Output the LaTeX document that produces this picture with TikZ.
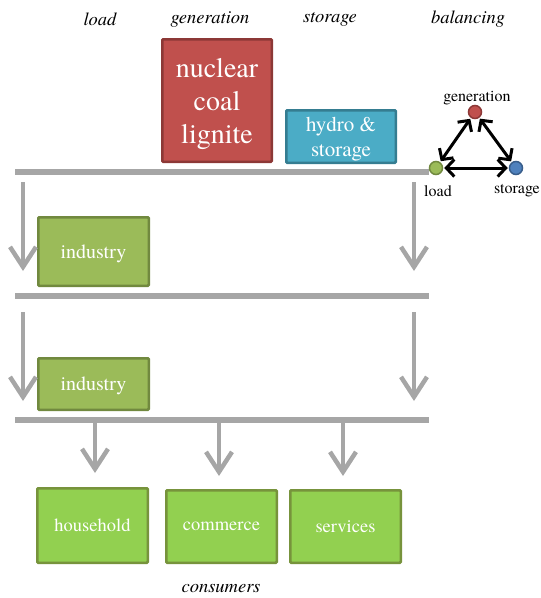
\documentclass[tikz,border=0pt]{standalone}
\usepackage{fontspec}
\setmainfont{TeX Gyre Termes}
\usetikzlibrary{arrows.meta}
\definecolor{redfill}{HTML}{C0504D}
\definecolor{redline}{HTML}{8C3836}
\definecolor{cyanfill}{HTML}{4BACC6}
\definecolor{cyanline}{HTML}{357D91}
\definecolor{olivefill}{HTML}{9BBB59}
\definecolor{oliveline}{HTML}{71893F}
\definecolor{limefill}{HTML}{92D050}
\definecolor{limeline}{HTML}{77933C}
\definecolor{barcol}{HTML}{A6A6A6}
\definecolor{bluefill}{HTML}{4F81BD}
\definecolor{blueline}{HTML}{385D8A}
\begin{document}
\begin{tikzpicture}[x=1pt,y=-1pt,
  box/.style={draw, line width=2.5pt, text=white, align=center, inner sep=0pt, rounded corners=1pt, text depth=0pt},
  bar/.style={draw=barcol, line width=6pt},
  flow/.style={draw=barcol, line width=4.5pt, -{Straight Barb[length=20pt,width=26pt]}},
  head/.style={font=\fontsize{18.5}{20}\selectfont\itshape},
  dot/.style={circle, draw, line width=1.5pt, minimum size=13pt, inner sep=0pt},
  lab/.style={font=\fontsize{16}{18}\selectfont},
  bal/.style={line width=3pt, {Straight Barb[length=8pt,width=17pt]}-{Straight Barb[length=8pt,width=17pt]}, shorten <=1pt, shorten >=1pt}
]
\useasboundingbox (0,0) rectangle (541,598);

% column headings
\node[head] (hload) at (100,19) {load};
\node[head] (hgen) at (210,19) {generation};
\node[head] (hsto) at (330,19) {storage};
\node[head] (hbal) at (468,19) {balancing};

% generation / storage boxes
\node[box, fill=redfill, draw=redline, minimum width=109.5pt, minimum height=122.5pt,
      font=\fontsize{28}{33}\selectfont] (gen) at (217,100.5) {nuclear\\coal\\lignite};
\node[box, fill=cyanfill, draw=cyanline, minimum width=109.5pt, minimum height=52.5pt,
      font=\fontsize{21}{25}\selectfont] (hyd) at (341,136.5) {hydro \&\\storage};

% bars
\coordinate (b1l) at (15,172);  \coordinate (b1r) at (429,172);
\coordinate (b2l) at (15,296);  \coordinate (b2r) at (429,296);
\coordinate (b3l) at (15,420);  \coordinate (b3r) at (429,420);
\draw[bar] (b1l) -- (b1r);
\draw[bar] (b2l) -- (b2r);
\draw[bar] (b3l) -- (b3r);

% industry boxes
\node[box, fill=olivefill, draw=oliveline, minimum width=110.5pt, minimum height=68.5pt,
      font=\fontsize{20}{24}\selectfont] (ind1) at (93.5,251.5) {industry};
\node[box, fill=olivefill, draw=oliveline, minimum width=110.5pt, minimum height=51.5pt,
      font=\fontsize{20}{24}\selectfont] (ind2) at (93.5,384) {industry};

% consumer boxes
\node[box, fill=limefill, draw=limeline, minimum width=110.5pt, minimum height=74.5pt,
      font=\fontsize{18.5}{22}\selectfont] (hh) at (92.5,525.5) {household};
\node[box, fill=limefill, draw=limeline, minimum width=110.5pt, minimum height=72.5pt,
      font=\fontsize{18.5}{22}\selectfont] (com) at (221.5,526.5) {commerce};
\node[box, fill=limefill, draw=limeline, minimum width=110.5pt, minimum height=72.5pt,
      font=\fontsize{18.5}{22}\selectfont] (ser) at (345.5,526.5) {services};
\node[head] (cons) at (221,589) {consumers};

% flow arrows
\coordinate (a1s) at (23,182);  \coordinate (a1e) at (23,271);
\coordinate (a2s) at (414,182); \coordinate (a2e) at (414,271);
\coordinate (a3s) at (23,312);  \coordinate (a3e) at (23,401);
\coordinate (a4s) at (414,312); \coordinate (a4e) at (414,401);
\coordinate (c1s) at (95,423);  \coordinate (c1e) at (95,473);
\coordinate (c2s) at (219,423); \coordinate (c2e) at (219,476);
\coordinate (c3s) at (343,423); \coordinate (c3e) at (343,476);
\draw[flow] (a1s) -- (a1e);
\draw[flow] (a2s) -- (a2e);
\draw[flow] (a3s) -- (a3e);
\draw[flow] (a4s) -- (a4e);
\draw[flow] (c1s) -- (c1e);
\draw[flow] (c2s) -- (c2e);
\draw[flow] (c3s) -- (c3e);

% balancing triangle
\node[dot, fill=redfill, draw=redline] (tg) at (475,112) {};
\node[dot, fill=olivefill, draw=oliveline] (tl) at (436,168) {};
\node[dot, fill=bluefill, draw=blueline] (ts) at (516,168) {};
\draw[bal] (tg) -- (tl);
\draw[bal] (tg) -- (ts);
\draw[bal] (tl) -- (ts);
\node[lab] (lg) at (477,98) {generation};
\node[lab] (ll) at (438,191) {load};
\node[lab] (ls) at (517,191) {storage};
\end{tikzpicture}
\end{document}
